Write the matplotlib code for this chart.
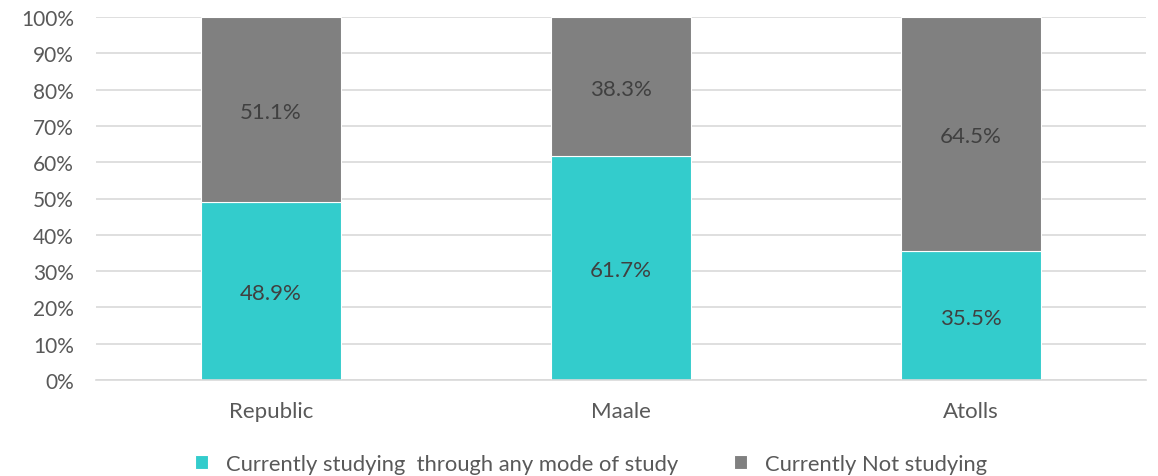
import matplotlib.pyplot as plt
import numpy as np

plt.rcParams['font.family'] = ['Lato', 'DejaVu Sans']

regions = ['Republic', 'Maale', 'Atolls']
studying = [48.9, 61.7, 35.5]
not_studying = [51.1, 38.3, 64.5]

teal = '#33CCCC'
grey = '#808080'
txt = '#595959'

fig = plt.figure(figsize=(11.58, 4.77), dpi=100)
ax = fig.add_axes([96/1158, 1-381/477, 1050/1158, 363/477])

x = np.arange(len(regions))
b1 = ax.bar(x, studying, width=0.4, color=teal, edgecolor='white', linewidth=0.8,
            label='Currently studying  through any mode of study', zorder=2)
b2 = ax.bar(x, not_studying, width=0.4, bottom=studying, color=grey, edgecolor='white',
            linewidth=0.8, label='Currently Not studying', zorder=2)

for i in range(len(regions)):
    ax.text(x[i], studying[i]/2 - 0.6, '%.1f%%' % studying[i], ha='center', va='center',
            fontsize=16, color='#404040')
    ax.text(x[i], studying[i] + not_studying[i]/2 - 0.6, '%.1f%%' % not_studying[i],
            ha='center', va='center', fontsize=16, color='#404040')

ax.set_xlim(-0.5, 2.5)
ax.set_ylim(0, 100)
ax.set_yticks(np.arange(0, 101, 10))
ax.set_yticklabels(['%d%%' % v for v in range(0, 101, 10)])
ax.set_xticks(x)
ax.set_xticklabels(regions)
ax.tick_params(axis='x', length=0, labelsize=16, labelcolor=txt, pad=15)
ax.tick_params(axis='y', length=0, labelsize=15, labelcolor=txt, pad=16)
ax.grid(axis='y', color='#D9D9D9', linewidth=1.2, zorder=0)
for s in ['top', 'right', 'left']:
    ax.spines[s].set_visible(False)
ax.spines['bottom'].set_color('#D9D9D9')
ax.spines['bottom'].set_linewidth(1.2)

leg = fig.legend(loc='center', bbox_to_anchor=(0.5104, 1-465/477), ncol=2, frameon=False,
                 fontsize=15.8, handlelength=0.6, handleheight=0.6, columnspacing=2.55,
                 handletextpad=0.8)
for t in leg.get_texts():
    t.set_color(txt)

plt.savefig('out.png', dpi=100)
